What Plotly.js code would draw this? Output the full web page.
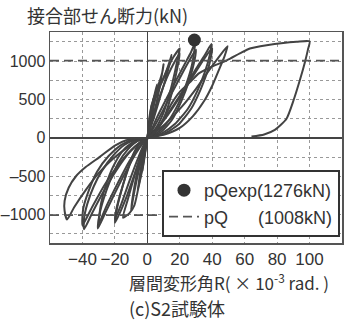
<!DOCTYPE html>
<html><head><meta charset="utf-8">
<script src="https://cdn.plot.ly/plotly-3.0.1.min.js"></script>
<style>html,body{margin:0;padding:0;background:#fff;}#chart{width:349px;height:321px;}</style>
</head><body><div id="chart"></div>
<script>
// ---- data: story drift angle R (x10^-3 rad) and joint shear Q (kN), cycle by cycle ----
const R_c1 = [0, 1.5, 3, 1.5, 0, -1.5, -3, -1.5, 0];
const Q_c1 = [0, 220, 420, 180, 0, -220, -420, -180, 0];
const R_c2 = [0, 2, 4, 6, 4, 2, 0, -2, -4, -6, -4, -2, 0];
const Q_c2 = [0, 280, 520, 700, 420, 150, -10, -250, -480, -680, -400, -140, 0];
const R_c3 = [0, 1.5, 4, 7, 9.5, 10, 8, 5, 2, 0, -2, -5, -8, -9.5, -10, -8, -5, -2, 0];
const Q_c3 = [0, 300, 520, 700, 880, 960, 700, 400, 150, 0, -140, -400, -700, -880, -940, -640, -330, -110, 0];
const R_c4 = [0, 2.5, 6, 9.5, 13, 15, 12, 8, 4, 0, -1.5, -3, -5.5, -8, -11, -15, -12, -8, -4, 0];
const Q_c4 = [0, 420, 620, 750, 950, 1080, 820, 540, 260, 0, -200, -400, -650, -880, -980, -1040, -800, -500, -220, 0];
const R_c5 = [0, 5, 10, 14, 17, 19, 20, 16, 12, 8, 4, 1.5, 0, -4, -8, -12, -15.5, -18.5, -20, -17, -13, -9, -5, -2, 0];
const Q_c5 = [0, 120, 330, 600, 860, 1060, 1165, 1050, 880, 680, 440, 220, 0, -50, -180, -400, -650, -900, -1110, -980, -780, -540, -300, -110, 0];
const R_c6 = [0, 6, 11, 15, 18, 20, 17, 13, 9, 5, 2, 0, -5, -9, -13, -16.5, -19, -20, -16, -11, -6, -2, 0];
const Q_c6 = [0, 100, 300, 580, 860, 1100, 1000, 830, 620, 380, 150, 0, -80, -250, -480, -720, -920, -1060, -860, -560, -280, -80, 0];
const R_c7 = [0, 7, 13, 19, 24, 27.5, 29.5, 27, 23, 18, 12, 6, 2, 0, -6, -12, -18, -23, -27, -29.5, -30.5, -26, -20, -13, -7, -2, 0];
const Q_c7 = [0, 80, 220, 440, 700, 950, 1240, 1120, 960, 760, 520, 270, 80, 0, -40, -150, -330, -560, -800, -1000, -1180, -980, -720, -430, -200, -50, 0];
const R_c8 = [0, 8, 15, 21, 26, 29, 30, 26.5, 21, 15, 9, 3, 0, -7, -14, -20, -25, -28.5, -30, -25, -18, -11, -4, 0];
const Q_c8 = [0, 70, 230, 480, 760, 1000, 1150, 1030, 820, 580, 330, 100, 0, -30, -140, -330, -580, -850, -1120, -880, -580, -300, -90, 0];
const R_c9 = [0, 9, 17, 25, 31, 35.5, 38.5, 39.5, 36, 30, 23, 15, 7, 0, -7, -14, -21, -28, -33, -37, -39, -39, -34, -27, -19, -11, -4, 0];
const Q_c9 = [0, 60, 180, 380, 620, 860, 1080, 1225, 1100, 900, 650, 390, 150, 0, -20, -90, -230, -430, -630, -860, -1050, -1190, -980, -700, -420, -190, -50, 0];
const R_c10 = [0, 10, 19, 27, 33, 37.5, 40, 35, 28, 20, 11, 3, 0, -8, -16, -24, -31, -36, -39.5, -40, -34, -26, -17, -8, 0];
const Q_c10 = [0, 50, 170, 380, 640, 900, 1170, 1030, 800, 530, 250, 50, 0, -15, -90, -240, -440, -680, -920, -1140, -900, -600, -330, -120, 0];
const R_c11 = [0, 10, 20, 28, 35, 40, 44, 47.5, 49.5, 45, 38, 30, 21, 11, 3, 0, -6, -13, -20, -29.5, -38, -44, -48.5, -51, -51, -49.5, -45, -38, -30, -21, -12, -5, 0];
const Q_c11 = [0, 40, 130, 280, 480, 680, 880, 1060, 1195, 1080, 880, 640, 400, 180, 40, 0, -10, -30, -100, -250, -380, -500, -650, -820, -950, -1065, -900, -680, -460, -270, -120, -30, 0];
const R_final = [0, 5, 10, 15, 20, 26, 32, 40, 49, 57, 63.2, 73.5, 83.8, 92, 100, 99, 97.3, 94, 90.3, 85.8, 78.6, 72, 64.2];
const Q_final = [0, 80, 250, 450, 600, 720, 844, 930, 1010, 1100, 1165, 1208, 1238, 1252, 1258, 1150, 1000, 750, 500, 250, 104, 45, 17];

const cyclesR = [R_c1, R_c2, R_c3, R_c4, R_c5, R_c6, R_c7, R_c8, R_c9, R_c10, R_c11, R_final];
const cyclesQ = [Q_c1, Q_c2, Q_c3, Q_c4, Q_c5, Q_c6, Q_c7, Q_c8, Q_c9, Q_c10, Q_c11, Q_final];

const pQexpR = [29];
const pQexpQ = [1276];
const pQ = 1008;

const xRange = [-60, 120];
const yRange = [-1370, 1380];
const xTickVals = [-40, -20, 0, 20, 40, 60, 80, 100];
const xTickText = ['\u221240', '\u221220', '0', '20', '40', '60', '80', '100'];
const yTickVals = [-1250, -1000, -750, -500, -250, 0, 250, 500, 750, 1000, 1250];
const yTickText = ['', '\u20131000', '', '\u2013500', '', '0', '', '500', '', '1000', ''];

// ---- traces ----
const traces = [];
for (let i = 0; i < cyclesR.length; i++) {
  traces.push({
    x: cyclesR[i], y: cyclesQ[i], mode: 'lines', type: 'scatter',
    line: {color: '#434343', width: 2, shape: 'spline', smoothing: 0.6},
    showlegend: false, hoverinfo: 'skip'
  });
}
traces.push({
  x: pQexpR, y: pQexpQ, mode: 'markers', type: 'scatter',
  marker: {color: '#333', size: 13},
  name: 'pQexp(' + pQexpQ[0] + 'kN)'
});
traces.push({
  x: xRange, y: [pQ, pQ], mode: 'lines', type: 'scatter',
  line: {color: '#555', width: 1.8, dash: '9px,5px'},
  name: 'pQ\u00a0\u00a0\u00a0\u00a0\u00a0\u00a0(' + pQ + 'kN)'
});
traces.push({
  x: xRange, y: [-pQ, -pQ], mode: 'lines', type: 'scatter',
  line: {color: '#555', width: 1.8, dash: '9px,5px'},
  showlegend: false, hoverinfo: 'skip'
});

const layout = {
  width: 349, height: 321,
  margin: {l: 50, r: 7, t: 32, b: 78, pad: 0},
  paper_bgcolor: '#fff', plot_bgcolor: '#fff',
  font: {family: 'Liberation Sans, Arial, sans-serif', size: 18, color: '#333'},
  showlegend: true,
  legend: {
    x: 0.3836, y: 0.346, xanchor: 'left', yanchor: 'top',
    bgcolor: '#fff', bordercolor: '#333', borderwidth: 2,
    font: {size: 18, color: '#333'}, traceorder: 'normal'
  },
  xaxis: {
    range: xRange, tickmode: 'array', tickvals: xTickVals, ticktext: xTickText,
    tickangle: 0, tickfont: {size: 17},
    showgrid: true, gridcolor: '#999', griddash: 'dot', gridwidth: 1,
    zeroline: true, zerolinecolor: '#444', zerolinewidth: 1.5,
    showline: true, mirror: true, linecolor: '#555', linewidth: 1.5,
    ticks: '', fixedrange: true
  },
  yaxis: {
    range: yRange, tickmode: 'array', tickvals: yTickVals, ticktext: yTickText,
    tickfont: {size: 16}, ticklabelstandoff: 0,
    showgrid: true, gridcolor: '#999', griddash: 'dot', gridwidth: 1,
    zeroline: true, zerolinecolor: '#444', zerolinewidth: 1.5,
    showline: true, mirror: true, linecolor: '#555', linewidth: 1.5,
    ticks: '', fixedrange: true
  },
  annotations: [
    {text: '接合部せん断力(kN)', xref: 'paper', yref: 'paper', x: -0.086, y: 1.0806,
     xanchor: 'left', yanchor: 'middle', showarrow: false,
     font: {family: 'Noto Sans CJK JP, sans-serif', size: 18, color: '#333'}},
    {text: '層間変形角R(\u00a0×\u00a010<sup>-3</sup>\u00a0rad.\u00a0)', xref: 'paper', yref: 'paper', x: 0.267, y: -0.1848,
     xanchor: 'left', yanchor: 'middle', showarrow: false, borderpad: 0,
     font: {family: 'Noto Sans CJK JP, sans-serif', size: 17, color: '#333'}},
    {text: '(c)S2試験体', xref: 'paper', yref: 'paper', x: 0.267, y: -0.308,
     xanchor: 'left', yanchor: 'middle', showarrow: false, borderpad: 0,
     font: {family: 'Noto Sans CJK JP, sans-serif', size: 18, color: '#333'}}
  ]
};

Plotly.newPlot('chart', traces, layout, {displayModeBar: false, staticPlot: true});
</script></body></html>
